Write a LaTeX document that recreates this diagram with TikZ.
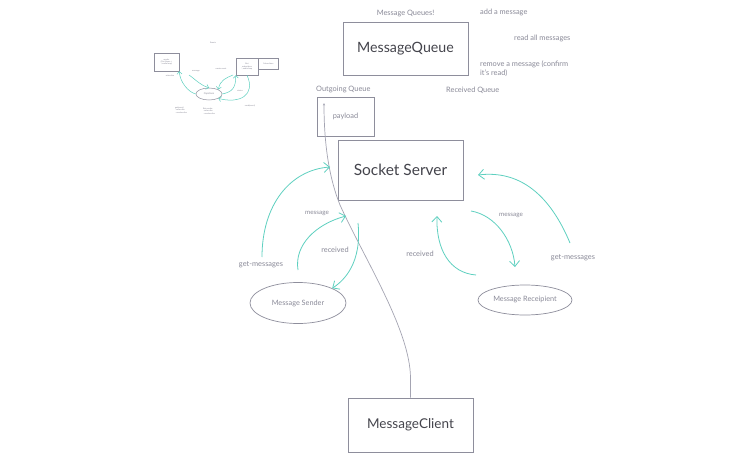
\documentclass[tikz,border=0pt]{standalone}
\usepackage{fontspec}
\setmainfont{Lato}
\usetikzlibrary{shapes.geometric,arrows.meta,positioning}
\definecolor{boxgray}{HTML}{8E8E9C}
\definecolor{inkgray}{HTML}{44444C}
\definecolor{labelgray}{HTML}{8A8A98}
\definecolor{wiregray}{HTML}{A4A4B2}
\definecolor{flowcol}{HTML}{5ED0C0}

\begin{document}
\begin{tikzpicture}[
        x=1pt, y=-1pt,
        box/.style={rectangle, draw=boxgray, line width=0.7pt, text=inkgray, inner sep=0pt},
        oval/.style={ellipse, draw=boxgray, line width=0.7pt, text=labelgray, font=\fontsize{7.3}{8}\selectfont, inner sep=0pt},
        note/.style={text=labelgray, font=\fontsize{7.4}{8.5}\selectfont, inner sep=0pt},
        flow/.style={draw=flowcol, line width=0.8pt, -{Straight Barb[length=5.5pt,width=10pt]}},
        wire/.style={draw=wiregray, line width=0.7pt},
        mini/.style={rectangle, draw=boxgray, line width=0.5pt, text=labelgray, font=\fontsize{2}{2.4}\selectfont, align=center, inner sep=0pt},
        minitext/.style={text=labelgray, font=\fontsize{2}{2.4}\selectfont, align=left, inner sep=0pt},
        miniflow/.style={draw=flowcol, line width=0.5pt, -{Straight Barb[length=2.5pt,width=5pt]}}
    ]
    \useasboundingbox[fill=white] (0,0) rectangle (750,460);
    % Sketch in the corner
    \node[minitext] (mtitle) at (213,43) {Events};
    \node[mini, minimum width=25pt, minimum height=18pt] (msend) at (166.5,62) {sender\\(Get Name +\\\textbackslash\ audio loop)};
    \node[mini, minimum width=22pt, minimum height=17pt] (mbot) at (247,66.5) {Bot\\subscribers\\\textbackslash\ audio loop};
    \node[mini, minimum width=20pt, minimum height=11pt, right=0pt of mbot.north east, anchor=north west] (msubs) {Subscribers};
    \node[ellipse, draw=boxgray, line width=0.5pt, text=labelgray, font=\fontsize{2.5}{3}\selectfont, minimum width=26pt, minimum height=12pt, inner sep=0pt] (mhub) at (209,94) {Capstone};
    \draw[miniflow] (mhub.west) .. controls (188,92) and (180,82) .. (msend.south east);
    \draw[miniflow] (189,75) .. controls (196,80) and (200,85) .. (mhub.north);
    \draw[miniflow] (233,75) .. controls (226,78) and (220,80) .. (mhub.north east);
    \draw[miniflow] (mhub.east) .. controls (232,92) and (236,88) .. (mbot.south west);
    \draw[miniflow] (mbot.south) .. controls (256,95) and (240,104) .. (mhub.south east);
    \node[minitext] (mt1) at (170,76) {subscribe};
    \node[minitext] (mt2) at (196,71) {message};
    \node[minitext] (mt3) at (221,69) {create event};
    \node[minitext] (mt4) at (240,91) {status};
    \node[minitext] (mt5) at (250,106) {send(event)};
    \node[minitext] (mt6) at (181,110) {get(event)\\- subscribe\\- unsubscribe};
    \node[minitext] (mt7) at (209,111) {Bot sender\\- subscribe\\- unsubscribe};
    % Queues
    \node[box, minimum width=125pt, minimum height=53pt, font=\fontsize{14.2}{16}\selectfont] (queue) at (405.5,48.5) {MessageQueue};
    \node[note, above=5pt of queue] (qtitle) {Message Queues!};
    \node[note, anchor=west] (qadd) at (480,12) {add a message};
    \node[note, anchor=west] (qread) at (514,38) {read all messages};
    \node[note, anchor=north west, align=left] (qremove) at (480,61) {remove a message (confirm\\it's read)};
    \node[note, anchor=west] (recvq) at (446,90) {Received Queue};
    \node[note, anchor=west] (outq) at (316,89) {Outgoing Queue};
    \node[box, minimum width=57pt, minimum height=39pt, text=labelgray, font=\fontsize{7.4}{8}\selectfont] (payload) at (345.5,116.5) {payload};
    % Server and clients
    \node[box, minimum width=125pt, minimum height=60pt, font=\fontsize{15.5}{17}\selectfont] (server) at (400.5,170) {Socket Server};
    \node[oval, minimum width=96pt, minimum height=41pt] (sender) at (298,303) {Message Sender};
    \node[oval, minimum width=94pt, minimum height=30pt] (recipient) at (525,300) {Message Receipient};
    \node[box, minimum width=125pt, minimum height=54pt, font=\fontsize{13.5}{15}\selectfont] (client) at (410.5,425) {MessageClient};
    % Wire up to the payload
    \coordinate (tail) at (324,103);
    \draw[wire, -{Stealth[length=2.5pt,width=2pt]}] (client.north) -- ++(0,-20)
        .. controls (410,330) and (365,260) .. (340,205)
        .. controls (328,175) and (324,140) .. (tail);
    % Sender side
    \coordinate (gmls) at (262,257);
    \coordinate (gmle) at (330,167);
    \coordinate (msls) at (298,270);
    \coordinate (msle) at (346,216);
    \coordinate (rcls) at (358,223);
    \draw[flow] (gmls) .. controls (262,205) and (290,170) .. (gmle);
    \draw[flow] (msls) .. controls (294,245) and (316,224) .. (msle);
    \draw[flow] (rcls) .. controls (362,262) and (345,280) .. (sender.north east);
    \node[note] (gml) at (261,265) {get-messages};
    \node[note, font=\fontsize{6.3}{7}\selectfont] (msl) at (317,213) {message};
    \node[note] (rcl) at (335,250) {received};
    % Recipient side
    \coordinate (gmrs) at (570,243);
    \coordinate (gmre) at (478,175);
    \coordinate (msrs) at (471,211);
    \coordinate (msre) at (515,267);
    \coordinate (rcrs) at (476,275);
    \coordinate (rcre) at (437,216);
    \draw[flow] (gmrs) .. controls (550,195) and (520,170) .. (gmre);
    \draw[flow] (msrs) .. controls (495,215) and (513,240) .. (msre);
    \draw[flow] (rcrs) .. controls (450,273) and (436,250) .. (rcre);
    \node[note] (gmr) at (573,258) {get-messages};
    \node[note, font=\fontsize{6.3}{7}\selectfont] (msr) at (511,215) {message};
    \node[note] (rcr) at (420,254) {received};
\end{tikzpicture}
\end{document}
